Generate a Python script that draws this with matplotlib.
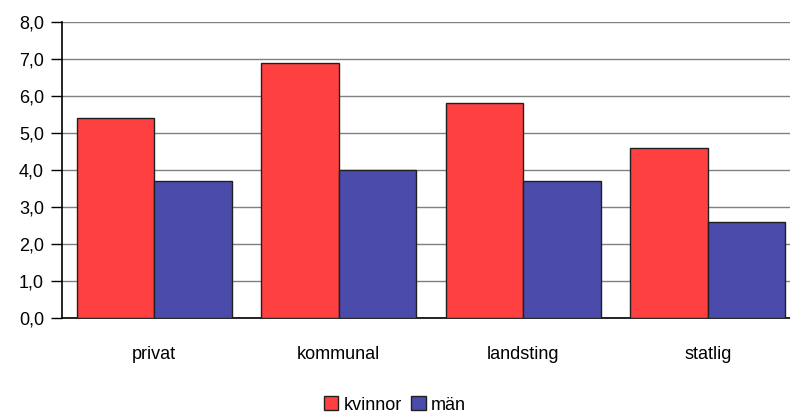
import matplotlib.pyplot as plt
import numpy as np

plt.rcParams['font.family'] = ['Liberation Sans', 'DejaVu Sans']

categories = ["privat", "kommunal", "landsting", "statlig"]
kvinnor = [5.4, 6.9, 5.8, 4.6]
man = [3.7, 4.0, 3.7, 2.6]
yticks = [0, 1, 2, 3, 4, 5, 6, 7, 8]

fig = plt.figure(figsize=(7.9, 4.16), dpi=100)
ax = fig.add_axes([62 / 790, 1 - 318 / 416, 738 / 790, 296 / 416])

x = np.arange(len(categories))
w = 0.42
ax.bar(x - w / 2, kvinnor, w, color="#FF4040", edgecolor="#202020", linewidth=1, label="kvinnor", zorder=3)
ax.bar(x + w / 2, man, w, color="#4B4BAC", edgecolor="#202020", linewidth=1, label="män", zorder=3)

ax.set_xlim(-0.5, len(categories) - 0.5)
ax.set_ylim(0, 8)
ax.set_yticks(yticks)
ax.set_yticklabels([f"{v:.1f}".replace(".", ",") for v in yticks], fontsize=13)
ax.yaxis.grid(True, color="#808080", linewidth=1, zorder=0)
ax.set_xticks(x)
ax.set_xticklabels(categories, fontsize=13)
ax.tick_params(axis="x", length=0, pad=20)
ax.tick_params(axis="y", length=8, width=1, pad=5)

for s in ["top", "right"]:
    ax.spines[s].set_visible(False)
ax.spines["left"].set_linewidth(1.2)
ax.spines["bottom"].set_linewidth(1.2)

fig.legend(loc="center", bbox_to_anchor=(0.5, 1 - 405 / 416), ncol=2, frameon=False,
           fontsize=13, handlelength=0.8, handleheight=0.8, handletextpad=0.3, columnspacing=0.5)

fig.savefig("out.png", dpi=100)
